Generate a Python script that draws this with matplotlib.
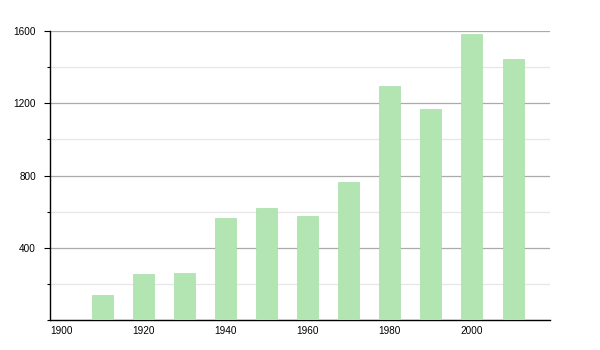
import matplotlib
matplotlib.use("Agg")
import matplotlib.pyplot as plt
from matplotlib.ticker import MultipleLocator

# data
years = [1910, 1920, 1930, 1940, 1950, 1960, 1970, 1980, 1990, 2000, 2010]
values = [138, 255, 262, 565, 620, 576, 764, 1295, 1166, 1583, 1445]
xticks = [1900, 1920, 1940, 1960, 1980, 2000]
yticks = [400, 800, 1200, 1600]

plt.rcParams['font.family'] = ['Liberation Sans', 'DejaVu Sans']

fig = plt.figure(figsize=(6, 3.5), dpi=100)
ax = fig.add_axes([50 / 600, 30 / 350, 500 / 600, 289 / 350])

ax.bar(years, values, width=5.1, color='#b3e5b3', edgecolor='#a9dfa9', linewidth=0.5, zorder=3)

ax.set_xlim(1897.3, 2019.0)
ax.set_ylim(0, 1600)

ax.set_xticks(xticks)
ax.set_yticks(yticks)
ax.yaxis.set_minor_locator(MultipleLocator(200))

ax.grid(axis='y', which='major', color='#aaaaaa', linewidth=0.9, zorder=0)
ax.grid(axis='y', which='minor', color='#e6e6e6', linewidth=0.9, zorder=0)

for s in ['top', 'right']:
    ax.spines[s].set_visible(False)
for s in ['left', 'bottom']:
    ax.spines[s].set_color('black')
    ax.spines[s].set_linewidth(1.0)

ax.tick_params(axis='x', length=0, pad=4, labelsize=7.2)
ax.tick_params(axis='y', which='major', length=4, width=0.8, pad=6, labelsize=7.2)
ax.tick_params(axis='y', which='minor', length=2, width=0.8)

fig.savefig('out.png', dpi=100)
